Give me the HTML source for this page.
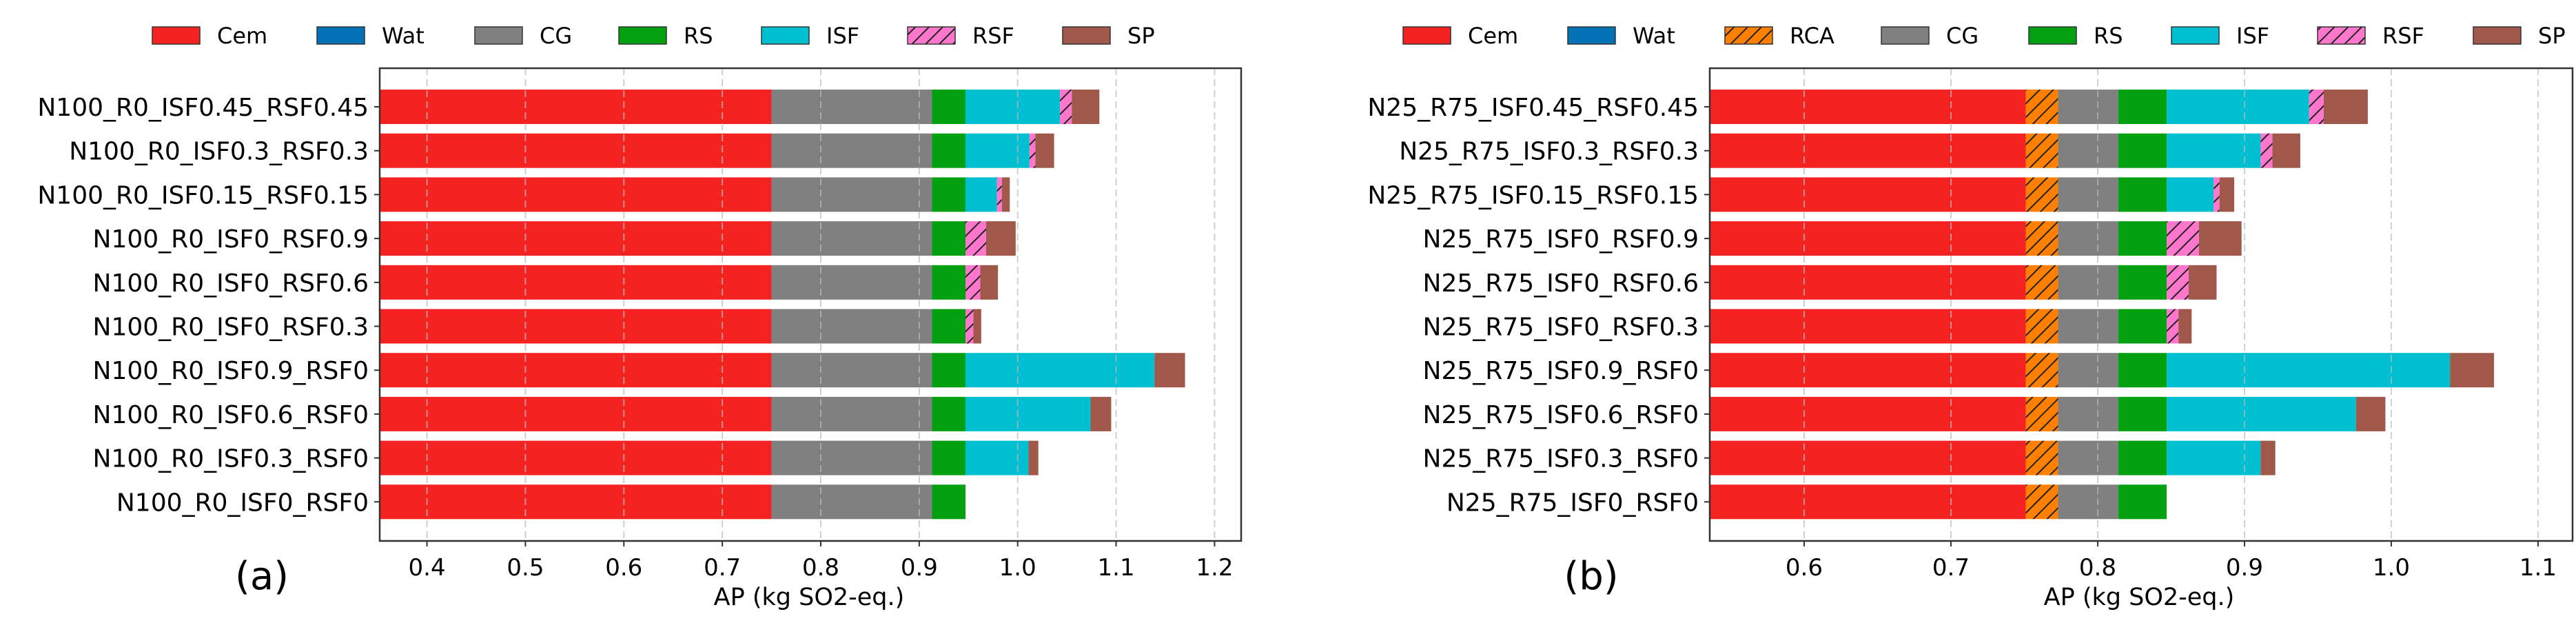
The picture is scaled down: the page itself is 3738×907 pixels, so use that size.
<!DOCTYPE html>
<html><head><meta charset="utf-8"><style>
html,body{margin:0;padding:0;background:#fff;}
svg{display:block;font-family:"DejaVu Sans","Liberation Sans",sans-serif;}
</style></head><body>
<svg id="chart" width="3738" height="907" viewBox="0 0 3738 907" xmlns="http://www.w3.org/2000/svg">
<defs>
<pattern id="hatchPink" patternUnits="userSpaceOnUse" width="14" height="14" patternTransform="rotate(45)">
<rect width="14" height="14" fill="#ff77cc"/><line x1="0" y1="0" x2="0" y2="14" stroke="#222" stroke-width="4"/></pattern>
<pattern id="hatchOrange" patternUnits="userSpaceOnUse" width="14" height="14" patternTransform="rotate(45)">
<rect width="14" height="14" fill="#ff8000"/><line x1="0" y1="0" x2="0" y2="14" stroke="#222" stroke-width="4"/></pattern>
<clipPath id="clipA"><rect x="551" y="99" width="1250" height="686"/></clipPath>
<clipPath id="clipB"><rect x="2481" y="99" width="1252" height="686"/></clipPath>
</defs>
</svg>
<script>
// Panel (a) data
const catsA = ["N100_R0_ISF0.45_RSF0.45","N100_R0_ISF0.3_RSF0.3","N100_R0_ISF0.15_RSF0.15","N100_R0_ISF0_RSF0.9","N100_R0_ISF0_RSF0.6","N100_R0_ISF0_RSF0.3","N100_R0_ISF0.9_RSF0","N100_R0_ISF0.6_RSF0","N100_R0_ISF0.3_RSF0","N100_R0_ISF0_RSF0"];
const cemA = [0.75,0.75,0.75,0.75,0.75,0.75,0.75,0.75,0.75,0.75];
const watA = [0,0,0,0,0,0,0,0,0,0];
const cgA  = [0.163,0.163,0.163,0.163,0.163,0.163,0.163,0.163,0.163,0.163];
const rsA  = [0.034,0.034,0.034,0.034,0.034,0.034,0.034,0.034,0.034,0.034];
const isfA = [0.096,0.065,0.032,0,0,0,0.192,0.127,0.064,0];
const rsfA = [0.012,0.006,0.005,0.021,0.015,0.008,0,0,0,0];
const spA  = [0.028,0.019,0.008,0.030,0.018,0.008,0.031,0.021,0.010,0];
const ticksA = [0.4,0.5,0.6,0.7,0.8,0.9,1.0,1.1,1.2];
// Panel (b) data
const catsB = ["N25_R75_ISF0.45_RSF0.45","N25_R75_ISF0.3_RSF0.3","N25_R75_ISF0.15_RSF0.15","N25_R75_ISF0_RSF0.9","N25_R75_ISF0_RSF0.6","N25_R75_ISF0_RSF0.3","N25_R75_ISF0.9_RSF0","N25_R75_ISF0.6_RSF0","N25_R75_ISF0.3_RSF0","N25_R75_ISF0_RSF0"];
const cemB = [0.751,0.751,0.751,0.751,0.751,0.751,0.751,0.751,0.751,0.751];
const watB = [0,0,0,0,0,0,0,0,0,0];
const rcaB = [0.022,0.022,0.022,0.022,0.022,0.022,0.022,0.022,0.022,0.022];
const cgB  = [0.041,0.041,0.041,0.041,0.041,0.041,0.041,0.041,0.041,0.041];
const rsB  = [0.033,0.033,0.033,0.033,0.033,0.033,0.033,0.033,0.033,0.033];
const isfB = [0.097,0.064,0.032,0,0,0,0.193,0.129,0.064,0];
const rsfB = [0.010,0.008,0.004,0.022,0.015,0.008,0,0,0,0];
const spB  = [0.030,0.019,0.010,0.029,0.019,0.009,0.030,0.020,0.010,0];
const ticksB = [0.6,0.7,0.8,0.9,1.0,1.1];

const NS="http://www.w3.org/2000/svg";
const svg=document.getElementById('chart');
function mk(tag,attrs,parent){const e=document.createElementNS(NS,tag);for(const k in attrs)e.setAttribute(k,attrs[k]);(parent||svg).appendChild(e);return e;}

function panel(cfg){
  const g=mk('g',{});
  
  
  const L=cfg.left,R=cfg.right,T=99,B=785;
  const xs=v=>L+(v-cfg.xmin)/(cfg.xmax-cfg.xmin)*(R-L);
  const y0=155,step=63.7,bh=50;
  const ys=i=>y0+i*step;
  const bars=mk('g',{'clip-path':'url(#'+cfg.clip+')'},g);
  
  
  cfg.cats.forEach((c,i)=>{
    let acc=0;
    cfg.series.forEach(s=>{
      const v=s.vals[i];
      if(v>0){
        const r=mk('rect',{x:xs(acc),y:ys(i)-bh/2,width:xs(acc+v)-xs(acc),height:bh,fill:s.fill},bars);
        
        
      }
      acc+=v;
    });
  });
  cfg.ticks.forEach(t=>{
    const l=mk('line',{x1:xs(t),x2:xs(t),y1:T,y2:B,stroke:'#bbb','stroke-width':2,'stroke-dasharray':'10,6','stroke-opacity':0.7},g);
    
    
    mk('line',{x1:xs(t),x2:xs(t),y1:B,y2:B+8,stroke:'#333','stroke-width':2},g);
    const tx=mk('text',{x:xs(t),y:B+50,'text-anchor':'middle','font-size':34,fill:'#000'},g);
    tx.textContent=t.toFixed(1);
    
    
  });
  const f=mk('rect',{x:L,y:T,width:R-L,height:B-T,fill:'none',stroke:'#333','stroke-width':2.5},g);
  
  
  cfg.cats.forEach((c,i)=>{
    mk('line',{x1:L-8,x2:L,y1:ys(i),y2:ys(i),stroke:'#333','stroke-width':2},g);
    const tx=mk('text',{x:L-16,y:ys(i)+13,'text-anchor':'end','font-size':36,fill:'#000'},g);
    tx.textContent=c;
    
    
  });
  const xl=mk('text',{x:cfg.xlabelX,y:878,'text-anchor':'middle','font-size':35,fill:'#000'},g);
  xl.textContent='AP (kg SO2-eq.)';
  
  
  const pl=mk('text',{x:cfg.tagX,y:855,'text-anchor':'middle','font-size':56,fill:'#000'},g);
  pl.textContent=cfg.tag;
  
  
  cfg.series.forEach((s,k)=>{
    const x=cfg.legendX[k];
    const r=mk('rect',{x:x,y:39,width:69,height:25,fill:s.fill,stroke:'#333','stroke-width':1.5},g);
    
    
    const t=mk('text',{x:x+94,y:63,'font-size':32,fill:'#000'},g);
    t.textContent=s.key;
    
    
  });
}
const C={cem:'#f52222',wat:'#0072b5',cg:'#808080',rs:'#00a010',isf:'#00bfd0',sp:'#a0584a'};
panel({name:'panel-a',clip:'clipA',left:551,right:1801,xmin:0.352,xmax:1.227,cats:catsA,ticks:ticksA,xlabelX:1174,tagX:380,tag:'(a)',
  legendX:[221,460,689,898,1105,1317,1542],
  series:[{key:'Cem',vals:cemA,fill:C.cem},{key:'Wat',vals:watA,fill:C.wat},{key:'CG',vals:cgA,fill:C.cg},{key:'RS',vals:rsA,fill:C.rs},{key:'ISF',vals:isfA,fill:C.isf},{key:'RSF',vals:rsfA,fill:'url(#hatchPink)'},{key:'SP',vals:spA,fill:C.sp}]});
panel({name:'panel-b',clip:'clipB',left:2481,right:3733,xmin:0.5357,xmax:1.1235,cats:catsB,ticks:ticksB,xlabelX:3104,tagX:2309,tag:'(b)',
  legendX:[2036,2275,2503,2730,2944,3151,3363,3589],
  series:[{key:'Cem',vals:cemB,fill:C.cem},{key:'Wat',vals:watB,fill:C.wat},{key:'RCA',vals:rcaB,fill:'url(#hatchOrange)'},{key:'CG',vals:cgB,fill:C.cg},{key:'RS',vals:rsB,fill:C.rs},{key:'ISF',vals:isfB,fill:C.isf},{key:'RSF',vals:rsfB,fill:'url(#hatchPink)'},{key:'SP',vals:spB,fill:C.sp}]});
</script>
</body></html>
